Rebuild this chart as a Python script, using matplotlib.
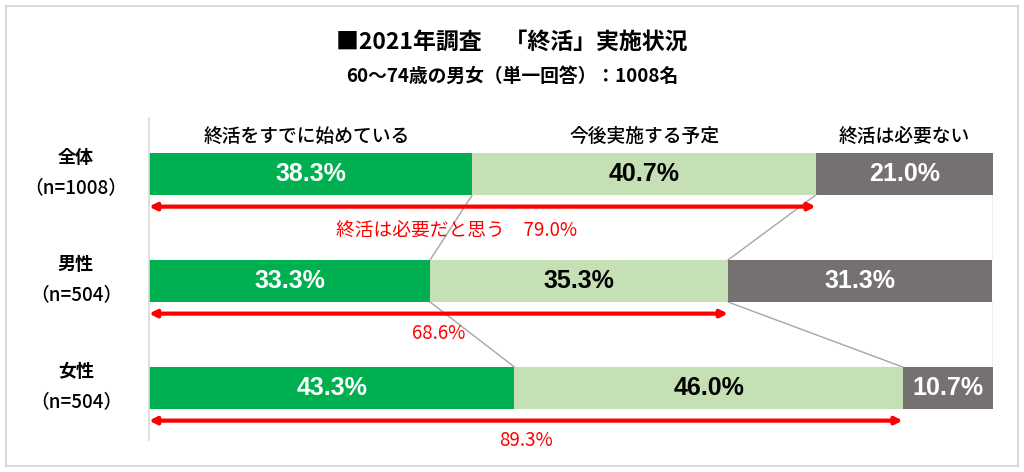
import matplotlib
matplotlib.use("Agg")
import matplotlib.pyplot as plt
import matplotlib.patches as mpatches
import numpy as np

plt.rcParams['font.family'] = ['Noto Sans CJK JP', 'DejaVu Sans']

# ---- data ----
groups = ["全体", "男性", "女性"]
group_n = ["（n=1008）", "（n=504）", "（n=504）"]
categories = ["終活をすでに始めている", "今後実施する予定", "終活は必要ない"]
started = [38.3, 33.3, 43.3]
planned = [40.7, 35.3, 46.0]
not_needed = [21.0, 31.3, 10.7]
need_total = [79.0, 68.6, 89.3]
need_labels = ["終活は必要だと思う　79.0%", "68.6%", "89.3%"]
title = "■2021年調査　「終活」実施状況"
subtitle = "60～74歳の男女（単一回答）：1008名"

colors = ["#00AF50", "#C5E0B4", "#767171"]
text_colors = ["white", "black", "white"]

W, H = 1024, 472
fig = plt.figure(figsize=(W / 100, H / 100), dpi=100)

# outer border
fig.patches.append(mpatches.Rectangle((6 / W, 6 / H), 1012 / W, 460 / H,
                                      transform=fig.transFigure, fill=False,
                                      edgecolor="#D9D9D9", lw=1.5))

ax_left, ax_right = 149, 993
ax_top, ax_bot = 118, 440
ax = fig.add_axes([ax_left / W, 1 - ax_bot / H, (ax_right - ax_left) / W, (ax_bot - ax_top) / H])
row_px = [174, 281, 388]
sp = 107.0
ax.set_xlim(0, 100)
ax.set_ylim((ax_bot - row_px[0]) / sp, (ax_top - row_px[0]) / sp)
for s in ["top", "right", "bottom"]:
    ax.spines[s].set_visible(False)
ax.spines["left"].set_color("#D9D9D9")
ax.spines["left"].set_linewidth(1.2)
ax.set_xticks([])
ax.set_yticks([])
ax.patch.set_alpha(0)

y = np.arange(len(groups))
bar_h = 42 / sp
series = [started, planned, not_needed]
left = np.zeros(len(groups))
for k, vals in enumerate(series):
    vals = np.array(vals)
    ax.barh(y, vals, left=left, height=bar_h, color=colors[k], edgecolor="none", zorder=2)
    for i in range(len(groups)):
        ax.text(left[i] + vals[i] / 2, y[i], f"{vals[i]:.1f}%", ha="center", va="center",
                color=text_colors[k], fontsize=18, fontweight="bold",
                family=["Liberation Sans", "DejaVu Sans"], zorder=3)
    left = left + vals

# connector lines between rows
cum1 = np.array(started)
cum2 = np.array(started) + np.array(planned)
for i in range(len(groups) - 1):
    yb = y[i] + bar_h / 2
    yt = y[i + 1] - bar_h / 2
    for c in (cum1, cum2):
        ax.plot([c[i], c[i + 1]], [yb, yt], color="#A6A6A6", lw=1.0, zorder=1)
    ax.plot([100, 100], [yb, yt], color="#A6A6A6", lw=1.0, zorder=1)

# red arrows and labels
arrow_off = 0.305
label_off = [0.53, 0.49, 0.49]
for i in range(len(groups)):
    ax.annotate("", xy=(need_total[i], y[i] + arrow_off), xytext=(0, y[i] + arrow_off),
                arrowprops=dict(arrowstyle="<|-|>", color="#FF0000", lw=3,
                                mutation_scale=10, shrinkA=0, shrinkB=0),
                annotation_clip=False, zorder=4)
label_x = [36.5, need_total[1] / 2, need_total[2] / 2]
for i in range(len(groups)):
    ax.text(label_x[i], y[i] + label_off[i], need_labels[i], ha="center", va="center",
            color="#FF0000", fontsize=13.5, clip_on=False)

# column headers
hdr_x = [started[0] / 2 - 0.5, started[0] + planned[0] / 2, started[0] + planned[0] + not_needed[0] / 2]
for k in range(3):
    ax.text(hdr_x[k], -0.35, categories[k], ha="center", va="center", fontsize=13.5,
            fontweight="medium", clip_on=False)

# group labels
gx = (76 - ax_left) / (ax_right - ax_left) * 100
for i in range(len(groups)):
    ax.text(gx, y[i] - 0.15, groups[i], ha="center", va="center", fontsize=13,
            fontweight="bold", clip_on=False)
    ax.text(gx, y[i] + 0.13, group_n[i], ha="center", va="center", fontsize=13.5,
            fontweight="medium", clip_on=False)

fig.text(0.5, 1 - 42 / H, title, ha="center", va="center", fontsize=16.5, fontweight="bold")
fig.text(0.5, 1 - 76 / H, subtitle, ha="center", va="center", fontsize=13.5, fontweight="bold")

fig.savefig("out.png", dpi=100)
